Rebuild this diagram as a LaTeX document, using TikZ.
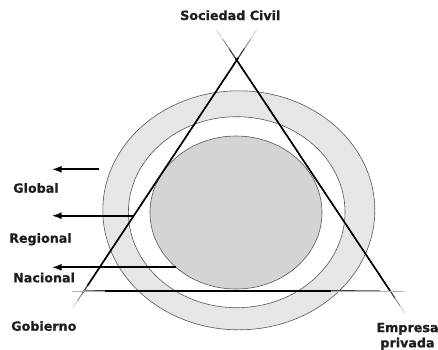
\documentclass[tikz,border=0pt]{standalone}
\usepackage{fontspec}
\setmainfont{DejaVu Sans}[BoldFeatures={FakeBold=0.7}]
\usetikzlibrary{arrows.meta,shapes.geometric,calc}
\definecolor{ringgray}{HTML}{E6E6E7}
\definecolor{coregray}{HTML}{D4D4D6}
\definecolor{edgegray}{HTML}{555555}
\definecolor{txt}{HTML}{1E1E1E}
\newcommand\fadeline[4]{%
  \foreach \k/\c/\w in {0/30/0.4, 1/50/0.7, 2/75/1.1, 3/100/1.6}{%
    \draw[line width=\w pt, black!\c]
      ($(#1)!{#3*\k/3}!(#2)$) -- ($(#1)!{1-(1-#4)*\k/3}!(#2)$);
  }%
}
\begin{document}
\begin{tikzpicture}[x=1pt,y=-1pt,
  lbl/.style={font=\fontsize{12.7}{15.3}\selectfont\bfseries, text=txt, inner sep=0pt},
  orb/.style={ellipse, draw=edgegray, line width=0.6pt, inner sep=0pt},
  levelarrow/.style={line width=1.8pt, -{Latex[length=10pt,width=7pt]}}]
\useasboundingbox (0,0) rectangle (438,349);
% ellipses
\node[orb, fill=ringgray, minimum width=272pt, minimum height=239pt] (outer) at (238.8,210.3) {};
\node[orb, fill=white, minimum width=216.6pt, minimum height=191pt] (middle) at (236.7,212.2) {};
\node[orb, fill=coregray, minimum width=172pt, minimum height=153pt] (inner) at (236,212.5) {};
% triangle lines
\coordinate (lb) at (72.7,308);
\coordinate (lt) at (256.7,30);
\coordinate (rb) at (405,313.3);
\coordinate (rt) at (216.7,30);
\coordinate (hl) at (72,290.7);
\coordinate (hr) at (404,290.7);
\fadeline{lb}{lt}{0.08}{0.90}
\fadeline{rb}{rt}{0.08}{0.90}
\fadeline{hl}{hr}{0.10}{0.78}
% arrows
\coordinate (gs) at (99,169.3);
\coordinate (ge) at (51.7,169.3);
\coordinate (rs) at (133,215.7);
\coordinate (re) at (51.7,215.7);
\coordinate (ns) at (175.5,267.3);
\coordinate (ne) at (51.7,267.3);
\draw[levelarrow] (gs) -- (ge);
\draw[levelarrow] (rs) -- (re);
\draw[levelarrow] (ns) -- (ne);
% labels
\node[lbl, anchor=base west] (soc) at (180,20) {Sociedad Civil};
\node[lbl, anchor=base west] (glo) at (13,192.7) {Global};
\node[lbl, anchor=base west] (reg) at (9,242.7) {Regional};
\node[lbl, anchor=base west] (nac) at (13,282.3) {Nacional};
\node[lbl, anchor=base west] (gob) at (11,330.7) {Gobierno};
\node[lbl, anchor=north, align=center] (emp) at (407.5,322.6) {Empresa\\privada};
\end{tikzpicture}
\end{document}
